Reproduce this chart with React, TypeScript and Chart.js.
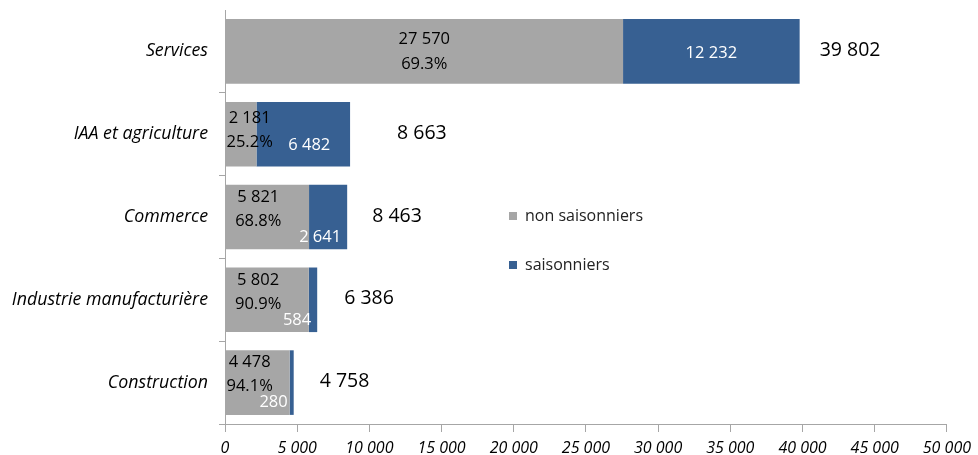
import React, { useEffect, useRef } from "react";
import { Chart, registerables } from "chart.js";

Chart.register(...registerables);

const categories = ["Services", "IAA et agriculture", "Commerce", "Industrie manufacturière", "Construction"];
const nonSaisonniers = [27570, 2181, 5821, 5802, 4478];
const saisonniers = [12232, 6482, 2641, 584, 280];
const totals = [39802, 8663, 8463, 6386, 4758];
const shares = ["69.3%", "25.2%", "68.8%", "90.9%", "94.1%"];
const seriesLabels = ["non saisonniers", "saisonniers"];
const xMin = 0;
const xMax = 50000;
const xStep = 5000;

// style constants
const GRAY = "#A6A6A6";
const BLUE = "#376092";
const AXIS = "#A6A6A6";
const FONT = "'Open Sans', sans-serif";
const totalLabelGap = [20, 47, 25, 27, 26];

const fmt = (n: number) => String(n).replace(/\B(?=(\d{3})+(?!\d))/g, " ");

const labelPlugin = {
  id: "barLabels",
  afterDatasetsDraw(chart: any) {
    const ctx = chart.ctx;
    const m0 = chart.getDatasetMeta(0).data;
    const m1 = chart.getDatasetMeta(1).data;
    ctx.save();
    ctx.textBaseline = "middle";
    ctx.textAlign = "center";
    for (let i = 0; i < categories.length; i++) {
      const g = m0[i];
      const b = m1[i];
      const cy = g.y;
      ctx.font = `16.5px ${FONT}`;
      const l1 = fmt(nonSaisonniers[i]);
      const l2 = shares[i];
      const gw = Math.max(ctx.measureText(l1).width, ctx.measureText(l2).width);
      const bt = fmt(saisonniers[i]);
      const bw = ctx.measureText(bt).width;
      const grayW = g.x - g.base;
      const blueW = b.x - b.base;
      const grayFits = grayW > gw + 20;
      const blueFits = blueW > bw + 10;
      const gc = (g.x + g.base) / 2;
      ctx.fillStyle = "#000";
      if (grayFits && blueFits) {
        ctx.fillText(l1, gc, cy - 12);
        ctx.fillText(l2, gc, cy + 13);
      } else {
        const cx = Math.max(gc - 9, g.base + gw / 2 + 1);
        const up = blueFits ? 16 : 20;
        ctx.fillText(l1, cx, cy - up);
        ctx.fillText(l2, cx, cy - up + 24);
      }
      ctx.fillStyle = "#fff";
      if (blueFits) {
        const dy = grayFits ? 2 : 11;
        ctx.fillText(bt, (b.x + b.base) / 2 + (grayFits ? 0 : 6), cy + dy);
      } else {
        ctx.fillText(bt, b.x - bw / 2 - 6, cy + 20);
      }
      ctx.fillStyle = "#000";
      ctx.font = `19.5px ${FONT}`;
      ctx.textAlign = "left";
      ctx.fillText(fmt(totals[i]), b.x + totalLabelGap[i], cy - 1);
      ctx.textAlign = "center";
    }
    ctx.restore();
  },
  afterDraw(chart: any) {
    const ctx = chart.ctx;
    ctx.save();
    ctx.font = `16px ${FONT}`;
    ctx.textBaseline = "middle";
    ctx.textAlign = "left";
    chart.data.datasets.forEach((ds: any, j: number) => {
      const y = 216 + j * 49;
      ctx.fillStyle = ds.backgroundColor;
      ctx.fillRect(509, y - 4, 8, 8);
      ctx.fillStyle = "#222";
      ctx.fillText(ds.label, 525, y);
    });
    ctx.restore();
  },
};

export default function App() {
  const ref = useRef<HTMLCanvasElement>(null);
  useEffect(() => {
    const canvas = ref.current;
    if (!canvas) return;
    const chart = new Chart(canvas, {
      type: "bar",
      data: {
        labels: categories,
        datasets: [
          { label: seriesLabels[0], data: nonSaisonniers, backgroundColor: GRAY, categoryPercentage: 0.78, barPercentage: 1 },
          { label: seriesLabels[1], data: saisonniers, backgroundColor: BLUE, categoryPercentage: 0.78, barPercentage: 1 },
        ],
      },
      options: {
        indexAxis: "y",
        animation: false,
        responsive: true,
        maintainAspectRatio: false,
        layout: { padding: { top: 10, right: 31, left: 0, bottom: 0 } },
        plugins: { legend: { display: false }, tooltip: { enabled: false } },
        scales: {
          x: {
            stacked: true,
            min: xMin,
            max: xMax,
            ticks: {
              stepSize: xStep,
              callback: (v: any) => fmt(Number(v)),
              color: "#000",
              font: { family: FONT, size: 16, style: "italic" },
              padding: 7,
              maxRotation: 0,
              autoSkip: false,
            },
            grid: { drawOnChartArea: false, drawTicks: true, tickLength: 8, color: AXIS },
            border: { display: true, color: AXIS },
            afterFit: (s: any) => { s.height = 31; },
          },
          y: {
            stacked: true,
            ticks: {
              color: "#000",
              font: { family: FONT, size: 17.8, style: "italic" },
              padding: 11,
            },
            grid: {
              drawOnChartArea: false,
              drawTicks: true,
              tickLength: 6,
              offset: true,
              color: (c: any) => (c.index === 0 ? "rgba(0,0,0,0)" : AXIS),
            },
            border: { display: true, color: AXIS },
            afterFit: (s: any) => {
              s.width = 225;
              s.paddingTop = 0;
              s.paddingBottom = 0;
            },
          },
        },
      },
      plugins: [labelPlugin],
    } as any);
    return () => chart.destroy();
  }, []);
  return (
    <div style={{ position: "fixed", left: 0, top: 0, width: 978, height: 455, background: "#fff" }}>
      <canvas ref={ref} />
    </div>
  );
}
